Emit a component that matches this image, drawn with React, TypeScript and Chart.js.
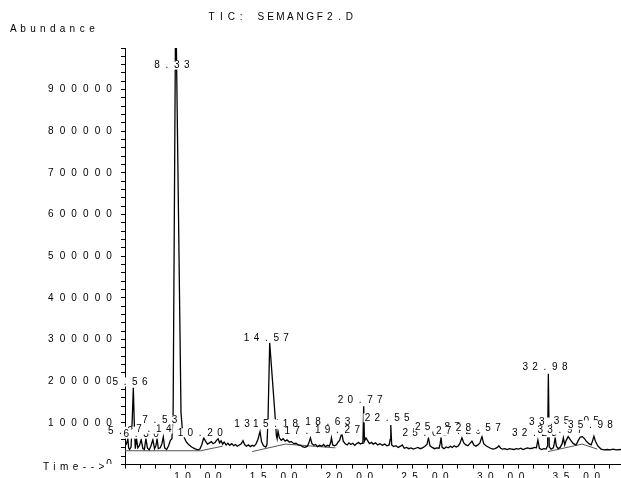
import React, { useEffect, useRef } from "react";
import { Chart, registerables } from "chart.js";

Chart.register(...registerables);

const TITLE = "TIC: SEMANGF2.D";
const Y_TITLE = "Abundance";
const X_TITLE = "Time-->";

const X_MIN = 5;
const X_MAX = 37.77;
const Y_MIN = 0;
const Y_MAX = 1000000;

// retention time (min)
const times = [
  5.0, 5.1, 5.19, 5.24, 5.3, 5.4, 5.48, 5.55, 5.62, 5.68, 5.76, 5.85, 5.95, 6.07, 6.18, 6.28, 6.38, 6.48, 6.6, 6.72,
  6.84, 6.95, 7.04, 7.12, 7.2, 7.33, 7.44, 7.53, 7.62, 7.75, 7.88, 8.0, 8.1, 8.18, 8.35, 8.7, 8.8, 8.92, 9.05, 9.2,
  9.4, 9.6, 9.8, 9.95, 10.08, 10.2, 10.32, 10.45, 10.58, 10.7, 10.82, 10.95, 11.05, 11.15, 11.25, 11.35, 11.45, 11.55, 11.68, 11.8,
  11.92, 12.05, 12.18, 12.3, 12.42, 12.55, 12.68, 12.8, 12.9, 13.02, 13.15, 13.28, 13.4, 13.52, 13.65, 13.78, 13.92, 14.02, 14.15, 14.3,
  14.38, 14.45, 14.56, 14.93, 15.0, 15.05, 15.11, 15.2, 15.32, 15.45, 15.58, 15.7, 15.85, 16.0, 16.15, 16.3, 16.45, 16.6, 16.75, 16.9,
  17.05, 17.15, 17.25, 17.35, 17.48, 17.6, 17.72, 17.85, 18.0, 18.12, 18.25, 18.38, 18.5, 18.58, 18.64, 18.72, 18.85, 18.98, 19.08, 19.18,
  19.32, 19.42, 19.55, 19.68, 19.8, 19.92, 20.05, 20.18, 20.3, 20.42, 20.55, 20.66, 20.72, 20.77, 20.82, 20.92, 21.02, 21.15, 21.28, 21.4,
  21.55, 21.7, 21.85, 22.0, 22.15, 22.3, 22.45, 22.52, 22.56, 22.62, 22.75, 22.9, 23.05, 23.2, 23.32, 23.45, 23.6, 23.75, 23.9, 24.05,
  24.2, 24.35, 24.5, 24.65, 24.8, 24.95, 25.05, 25.15, 25.3, 25.45, 25.6, 25.75, 25.82, 25.88, 25.95, 26.08, 26.22, 26.35, 26.5, 26.62,
  26.75, 26.88, 27.0, 27.12, 27.26, 27.38, 27.52, 27.65, 27.78, 27.92, 28.05, 28.18, 28.32, 28.45, 28.58, 28.7, 28.85, 29.0, 29.15, 29.3,
  29.45, 29.6, 29.7, 29.82, 29.95, 30.1, 30.25, 30.4, 30.55, 30.7, 30.85, 31.0, 31.15, 31.3, 31.45, 31.6, 31.75, 31.9, 32.05, 32.18,
  32.28, 32.38, 32.52, 32.68, 32.82, 32.92, 32.97, 33.03, 33.15, 33.3, 33.36, 33.42, 33.5, 33.62, 33.75, 33.88, 33.96, 34.05, 34.15, 34.28,
  34.45, 34.62, 34.8, 34.95, 35.08, 35.22, 35.35, 35.5, 35.65, 35.8, 35.9, 35.98, 36.08, 36.25, 36.45, 36.65, 36.85, 37.05, 37.25, 37.45,
  37.77,
];

// total ion current abundance
const abundance = [
  45000, 50000, 62000, 40000, 36000, 42000, 110000, 184000, 90000, 38000, 62000, 40000, 45000, 60000, 38000, 36000, 62000, 40000, 35000, 45000,
  60000, 38000, 45000, 62000, 38000, 40000, 50000, 66000, 40000, 36000, 45000, 58000, 62000, 124000, 1130000, 124000, 80000, 64000, 54000, 48000,
  42000, 38000, 35000, 37000, 48000, 64000, 56000, 49000, 52000, 55000, 50000, 53000, 58000, 62000, 52000, 57000, 49000, 54000, 47000, 51000,
  46000, 50000, 45000, 48000, 44000, 47000, 50000, 57000, 48000, 44000, 47000, 43000, 46000, 44000, 49000, 60000, 79000, 55000, 45000, 42000,
  48000, 110000, 292000, 110000, 70000, 62000, 80000, 64000, 58000, 62000, 56000, 59000, 54000, 55000, 50000, 51000, 47000, 46000, 42000, 41000,
  44000, 52000, 64000, 50000, 46000, 48000, 43000, 46000, 44000, 48000, 43000, 46000, 44000, 52000, 64000, 47000, 45000, 48000, 54000, 58000,
  76000, 56000, 50000, 47000, 52000, 48000, 51000, 46000, 50000, 53000, 49000, 51000, 55000, 140000, 56000, 64000, 58000, 50000, 53000, 49000,
  52000, 47000, 50000, 46000, 49000, 45000, 47000, 60000, 95000, 47000, 43000, 45000, 41000, 44000, 47000, 39000, 41000, 38000, 40000, 37000,
  39000, 41000, 38000, 40000, 43000, 48000, 64000, 45000, 41000, 38000, 40000, 39000, 50000, 64000, 41000, 38000, 42000, 40000, 44000, 41000,
  45000, 42000, 44000, 50000, 64000, 52000, 47000, 45000, 50000, 56000, 47000, 44000, 47000, 52000, 67000, 50000, 45000, 42000, 39000, 37000,
  38000, 41000, 45000, 39000, 37000, 38000, 36000, 38000, 37000, 36000, 38000, 37000, 39000, 36000, 38000, 40000, 38000, 39000, 41000, 40000,
  59000, 39000, 36000, 38000, 37000, 45000, 218000, 42000, 37000, 40000, 50000, 64000, 44000, 38000, 41000, 50000, 64000, 47000, 58000, 67000,
  58000, 50000, 47000, 58000, 66000, 67000, 62000, 55000, 50000, 47000, 58000, 68000, 56000, 44000, 37000, 35000, 36000, 35000, 37000, 35000,
  36000,
];

// integration baselines (null = gap)
const baselineTimes = [5.0, 10.0, 11.45, 12.0, 13.4, 15.6, 18.9, 19.5, 32.95, 35.2, 36.2];
const baselineValues = [33000, 33000, 44000, null, 31000, 49000, 40000, null, 31000, 49000, 37000];

// peak annotations
const peakLabels = [
  "5.26", "5.56", "6.30", "7.14", "7.53", "8.33", "10.20", "13.94", "14.57", "15.18", "17.25", "18.63", "19.27",
  "20.77", "22.55", "25.05", "25.87", "27.26", "28.57", "32.28", "32.98", "33.41", "33.97", "35.05", "35.98",
];
const peakTimes = [
  5.26, 5.56, 6.3, 7.14, 7.53, 8.33, 10.2, 13.94, 14.57, 15.18, 17.25, 18.63, 19.27,
  20.77, 22.55, 25.05, 25.87, 27.26, 28.57, 32.28, 32.98, 33.41, 33.97, 35.05, 35.98,
];
const peakLabelLevels = [
  80000, 198000, 73000, 85000, 107000, 959000, 76000, 97000, 304000, 97000, 80000, 102000, 83000,
  155000, 112000, 76000, 90000, 80000, 88000, 76000, 234000, 102000, 83000, 103000, 95000,
];

const FAMILY = '"Liberation Sans", Arial, Helvetica, sans-serif';
const FONT = `10px ${FAMILY}`;
const PITCH = 9.85;

function drawCells(ctx: CanvasRenderingContext2D, text: string, cx: number, cy: number, bg: boolean) {
  const n = text.length;
  const first = cx - ((n - 1) * PITCH) / 2;
  if (bg) {
    ctx.fillStyle = "#fff";
    ctx.fillRect(first - 4, cy - 4.5, (n - 1) * PITCH + 8, 9);
  }
  ctx.fillStyle = "#000";
  ctx.textAlign = "center";
  ctx.textBaseline = "middle";
  for (let i = 0; i < n; i++) {
    ctx.fillText(text[i], first + i * PITCH, cy);
  }
}

const textPlugin = {
  id: "chemText",
  beforeDraw(chart: any) {
    chart.ctx.letterSpacing = "5.6px";
  },
  beforeDatasetsDraw(chart: any) {
    chart.ctx.letterSpacing = "6.1px";
  },
  afterDraw(chart: any) {
    const ctx: CanvasRenderingContext2D = chart.ctx;
    const xs = chart.scales.x;
    const ys = chart.scales.y;
    ctx.save();
    (ctx as any).letterSpacing = "0px";
    ctx.font = FONT;
    for (let i = 0; i < peakLabels.length; i++) {
      const cx = xs.getPixelForValue(peakTimes[i]) - 3.5;
      const cy = ys.getPixelForValue(peakLabelLevels[i]);
      drawCells(ctx, peakLabels[i], cx, cy, true);
    }
    drawCells(ctx, TITLE, 280.5, 17, false);
    drawCells(ctx, Y_TITLE, 13.3 + (PITCH * (Y_TITLE.length - 1)) / 2, 29.5, false);
    // x title
    ctx.fillStyle = "#fff";
    ctx.fillRect(41, 464, 77, 10);
    (ctx as any).letterSpacing = "4.5px";
    ctx.fillStyle = "#000";
    ctx.textAlign = "left";
    ctx.textBaseline = "middle";
    ctx.fillText(X_TITLE, 43, 467.5);
    ctx.restore();
  },
};

export default function App() {
  const ref = useRef<HTMLCanvasElement | null>(null);
  useEffect(() => {
    document.body.style.margin = "0";
    const canvas = ref.current;
    if (!canvas) return;
    const chart = new Chart(canvas, {
      type: "line",
      data: {
        datasets: [
          {
            data: times.map((t, i) => ({ x: t, y: abundance[i] })),
            borderColor: "#000",
            borderWidth: 1.3,
            pointRadius: 0,
            tension: 0,
            fill: false,
          },
          {
            data: baselineTimes.map((t, i) => ({ x: t, y: baselineValues[i] })) as any,
            borderColor: "#555",
            borderWidth: 1,
            pointRadius: 0,
            tension: 0,
            fill: false,
            spanGaps: false,
          },
        ],
      },
      options: {
        responsive: false,
        animation: false,
        devicePixelRatio: 1,
        layout: { padding: { top: 48, right: 0, left: 0, bottom: 0 } },
        plugins: {
          legend: { display: false },
          tooltip: { enabled: false },
          title: { display: false },
        },
        scales: {
          x: {
            type: "linear",
            position: "bottom",
            min: X_MIN,
            max: X_MAX,
            afterFit: (s: any) => {
              s.height = 13.5;
            },
            grid: { drawOnChartArea: false, drawTicks: true, tickLength: 4, color: "#000", z: -1 },
            border: { display: true, color: "#000", width: 1 },
            ticks: {
              stepSize: 1,
              autoSkip: false,
              maxRotation: 0,
              minRotation: 0,
              includeBounds: false,
              padding: 3,
              color: "#000",
              font: { family: FAMILY, size: 10 },
              z: -1,
              callback: (v: any) => (Math.abs(v % 5) < 1e-9 && v !== X_MIN ? Number(v).toFixed(2) : ""),
            },
          },
          y: {
            type: "linear",
            position: "left",
            min: Y_MIN,
            max: Y_MAX,
            afterFit: (s: any) => {
              s.width = 125;
            },
            grid: { drawOnChartArea: false, drawTicks: true, tickLength: 4, color: "#000" },
            border: { display: true, color: "#000", width: 1 },
            ticks: {
              stepSize: 20000,
              autoSkip: false,
              includeBounds: false,
              padding: 3,
              color: "#000",
              font: { family: FAMILY, size: 10 },
              z: 1,
              callback: (v: any) => (v % 100000 === 0 && v !== Y_MAX ? String(v) : ""),
            },
          },
        },
      } as any,
      plugins: [textPlugin],
    });
    return () => chart.destroy();
  }, []);
  return (
    <canvas
      ref={ref}
      width={621}
      height={478}
      style={{ position: "absolute", left: 0, top: 0, width: 621, height: 478 }}
    />
  );
}
